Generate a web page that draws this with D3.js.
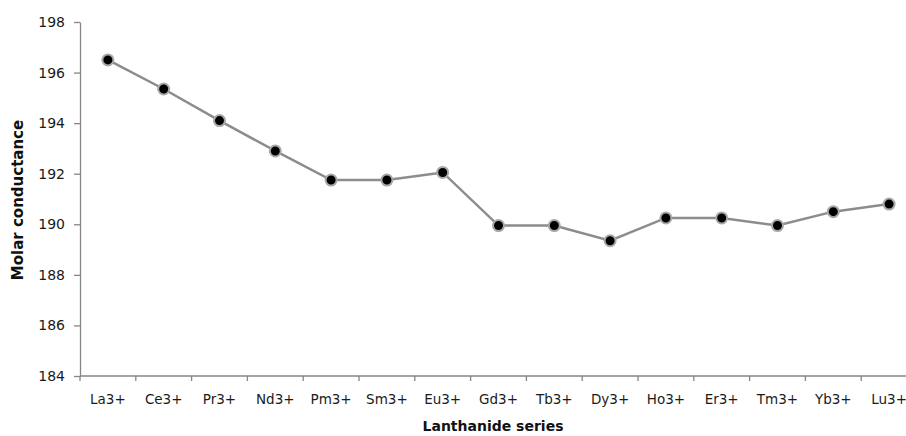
<!DOCTYPE html>
<html>
<head>
<meta charset="utf-8">
<script src="https://cdn.jsdelivr.net/npm/d3@7"></script>
<style>
  html, body { margin: 0; padding: 0; background: #fff; overflow: hidden; }
  svg { display: block; }
</style>
</head>
<body>
<div id="chart"></div>
<script>
// Chart data
const ions = ['La3+', 'Ce3+', 'Pr3+', 'Nd3+', 'Pm3+', 'Sm3+', 'Eu3+', 'Gd3+',
              'Tb3+', 'Dy3+', 'Ho3+', 'Er3+', 'Tm3+', 'Yb3+', 'Lu3+'];
const conductance = [196.5, 195.35, 194.1, 192.9, 191.75, 191.75, 192.05, 189.95,
                     189.95, 189.35, 190.25, 190.25, 189.95, 190.5, 190.8];
const yTicks = [184, 186, 188, 190, 192, 194, 196, 198];

const width = 906, height = 436;
const FONT = 'Tahoma, "DejaVu Sans", Verdana, sans-serif';
const axisColor = '#868686';

const svg = d3.select('#chart')
    .append('svg')
    .attr('width', width)
    .attr('height', height);

// Scales (band range runs slightly past the right edge, as in the reference)
const x = d3.scaleBand()
    .domain(ions)
    .range([80, 917])
    .padding(0);

const y = d3.scaleLinear()
    .domain([184, 198])
    .range([376, 22]);

// Y axis
const yAxis = svg.append('g')
    .attr('transform', 'translate(80,0)')
    .call(d3.axisLeft(y).tickValues(yTicks).tickSize(6).tickPadding(9).tickSizeOuter(0));
yAxis.select('.domain').attr('stroke', axisColor).attr('stroke-width', 1.3);
yAxis.selectAll('.tick line').attr('stroke', axisColor).attr('stroke-width', 1.3);
yAxis.selectAll('.tick text')
    .attr('fill', '#1a1a1a')
    .attr('font-size', '14px')
    .attr('font-family', FONT);

// X axis: ticks at band boundaries
const xAxisG = svg.append('g')
    .attr('transform', 'translate(0,376)');
xAxisG.append('line')
    .attr('x1', 80).attr('x2', width)
    .attr('stroke', axisColor).attr('stroke-width', 1.3);
xAxisG.selectAll('.xtick')
    .data(ions)
    .enter().append('line')
    .attr('class', 'xtick')
    .attr('x1', d => x(d)).attr('x2', d => x(d))
    .attr('y1', 0).attr('y2', 5)
    .attr('stroke', axisColor).attr('stroke-width', 1.3);
xAxisG.selectAll('.xlabel')
    .data(ions)
    .enter().append('text')
    .attr('class', 'xlabel')
    .attr('x', d => x(d) + x.bandwidth() / 2)
    .attr('y', 28)
    .attr('text-anchor', 'middle')
    .attr('fill', '#1a1a1a')
    .attr('font-size', '13.5px')
    .attr('font-family', FONT)
    .text(d => d);

// Axis titles
svg.append('text')
    .attr('x', 493)
    .attr('y', 431)
    .attr('text-anchor', 'middle')
    .attr('font-size', '14px')
    .attr('font-weight', 'bold')
    .attr('font-family', FONT)
    .attr('fill', '#111')
    .text('Lanthanide series');

svg.append('text')
    .attr('transform', 'translate(23,200) rotate(-90)')
    .attr('text-anchor', 'middle')
    .attr('font-size', '15px')
    .attr('font-weight', 'bold')
    .attr('font-family', FONT)
    .attr('fill', '#111')
    .text('Molar conductance');

// Line
const pts = ions.map((d, i) => ({ ion: d, value: conductance[i] }));
const line = d3.line()
    .x(d => x(d.ion) + x.bandwidth() / 2)
    .y(d => y(d.value));

svg.append('path')
    .datum(pts)
    .attr('d', line)
    .attr('fill', 'none')
    .attr('stroke', '#8c8c8c')
    .attr('stroke-width', 2.5);

// Markers
svg.selectAll('.dot')
    .data(pts)
    .enter().append('circle')
    .attr('class', 'dot')
    .attr('cx', d => x(d.ion) + x.bandwidth() / 2)
    .attr('cy', d => y(d.value))
    .attr('r', 5.5)
    .attr('fill', '#000')
    .attr('stroke', '#a8a8a8')
    .attr('stroke-width', 2);
</script>
</body>
</html>
